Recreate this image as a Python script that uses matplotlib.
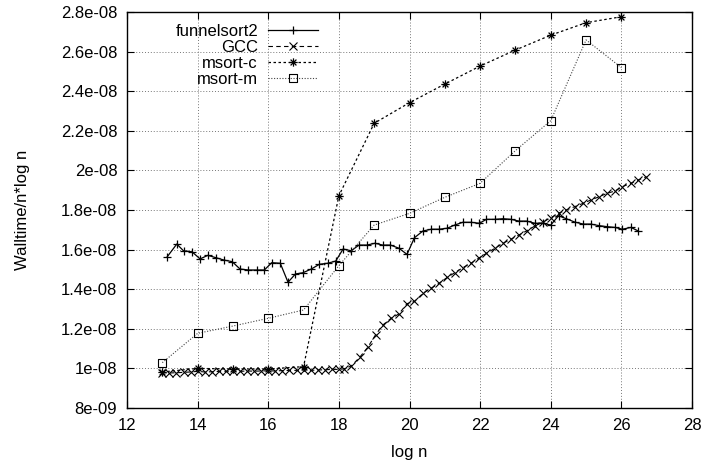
import matplotlib
matplotlib.use("Agg")
import matplotlib.pyplot as plt
from matplotlib.path import Path
from matplotlib.ticker import FuncFormatter, MultipleLocator

plt.rcParams["font.family"] = ["Liberation Sans", "DejaVu Sans"]

# funnelsort2
fs_x = [13.14, 13.41, 13.6, 13.84, 14.07, 14.29, 14.52, 14.75, 14.98, 15.2,
        15.44, 15.68, 15.89, 16.1, 16.34, 16.56, 16.77, 16.98, 17.22, 17.45,
        17.68, 17.91, 18.12, 18.35, 18.57, 18.8, 19.02, 19.24, 19.46, 19.7,
        19.93, 20.14, 20.38, 20.62, 20.84, 21.07, 21.28, 21.51, 21.74, 21.98,
        22.18, 22.42, 22.65, 22.87, 23.1, 23.32, 23.55, 23.78, 24.0, 24.22,
        24.44, 24.68, 24.92, 25.13, 25.37, 25.59, 25.82, 26.03, 26.27, 26.48]
fs_y = [1.564, 1.628, 1.594, 1.589, 1.553, 1.571, 1.559, 1.547, 1.539, 1.502,
        1.497, 1.497, 1.497, 1.534, 1.531, 1.435, 1.477, 1.483, 1.502, 1.526,
        1.531, 1.542, 1.603, 1.594, 1.623, 1.623, 1.632, 1.623, 1.623, 1.607,
        1.576, 1.660, 1.694, 1.703, 1.703, 1.708, 1.724, 1.738, 1.738, 1.733,
        1.753, 1.753, 1.756, 1.753, 1.744, 1.744, 1.733, 1.733, 1.724, 1.771,
        1.756, 1.739, 1.729, 1.729, 1.721, 1.716, 1.712, 1.703, 1.712, 1.694]

# GCC
gcc_x = [13.0, 13.2, 13.4, 13.6, 13.8, 14.0, 14.2, 14.4, 14.6, 14.8,
         15.0, 15.2, 15.4, 15.6, 15.8, 16.0, 16.2, 16.4, 16.6, 16.8,
         17.0, 17.2, 17.4, 17.6, 17.8, 18.0, 18.15, 18.35, 18.59, 18.82,
         19.04, 19.25, 19.48, 19.7, 19.93, 20.14, 20.38, 20.62, 20.84, 21.07,
         21.28, 21.51, 21.74, 21.98, 22.18, 22.42, 22.65, 22.87, 23.1, 23.32,
         23.55, 23.78, 24.0, 24.22, 24.44, 24.68, 24.92, 25.13, 25.37, 25.59,
         25.82, 26.03, 26.27, 26.48, 26.71]
gcc_y = [0.978, 0.977, 0.978, 0.980, 0.982, 0.985, 0.982, 0.983, 0.985, 0.985,
         0.988, 0.985, 0.987, 0.986, 0.987, 0.988, 0.987, 0.989, 0.990, 0.990,
         0.992, 0.990, 0.992, 0.993, 0.995, 0.995, 0.998, 1.012, 1.056, 1.107,
         1.170, 1.220, 1.253, 1.275, 1.327, 1.338, 1.379, 1.405, 1.430, 1.460,
         1.483, 1.509, 1.531, 1.559, 1.581, 1.607, 1.632, 1.652, 1.674, 1.695,
         1.719, 1.739, 1.761, 1.783, 1.800, 1.817, 1.834, 1.850, 1.867, 1.884,
         1.896, 1.918, 1.935, 1.952, 1.968]

# msort-c and msort-m
ms_x = [13, 14, 15, 16, 17, 18, 19, 20, 21, 22, 23, 24, 25, 26]
msc_y = [0.982, 1.000, 0.997, 0.997, 1.009, 1.872, 2.238, 2.342, 2.436,
         2.527, 2.608, 2.683, 2.746, 2.776]
msm_y = [1.029, 1.177, 1.214, 1.253, 1.295, 1.519, 1.724, 1.783, 1.864,
         1.935, 2.100, 2.251, 2.659, 2.519]

scale = 1e-8
fs_y = [v * scale for v in fs_y]
gcc_y = [v * scale for v in gcc_y]
msc_y = [v * scale for v in msc_y]
msm_y = [v * scale for v in msm_y]

# gnuplot-like markers: asterisk (+ and x), square with center dot
star = Path([(-1, 0), (1, 0), (0, -1), (0, 1), (-0.7, -0.7), (0.7, 0.7),
             (-0.7, 0.7), (0.7, -0.7)],
            [Path.MOVETO, Path.LINETO] * 4)
boxdot = Path([(-1, -1), (1, -1), (1, 1), (-1, 1), (-1, -1),
               (-0.1, 0), (0.1, 0)],
              [Path.MOVETO, Path.LINETO, Path.LINETO, Path.LINETO,
               Path.CLOSEPOLY, Path.MOVETO, Path.LINETO])

fig = plt.figure(figsize=(7.02, 4.68), dpi=100)
ax = fig.add_axes([127 / 702, 60 / 468, 565 / 702, 396 / 468])

ax.plot(fs_x, fs_y, color="black", lw=0.9, marker="+", ms=6, mew=0.9,
        label="funnelsort2")
ax.plot(gcc_x, gcc_y, color="black", lw=0.8, ls=(0, (4, 3)), marker="x",
        ms=5.5, mew=0.8, label="GCC")
ax.plot(ms_x, msc_y, color="black", lw=0.9, ls=(0, (2, 2)), marker=star,
        ms=6, mew=0.9, mfc="none", label="msort-c")
ax.plot(ms_x, msm_y, color="#444444", lw=0.8, ls=(0, (1, 1.5)), marker=boxdot,
        ms=6, mew=0.8, mfc="none", mec="black", label="msort-m")

ax.set_xlim(12, 28)
ax.set_ylim(8e-9, 2.8e-8)
ax.xaxis.set_major_locator(MultipleLocator(2))
ax.yaxis.set_major_locator(MultipleLocator(2e-9))
ax.yaxis.set_major_formatter(FuncFormatter(lambda v, p: "%g" % v))
ax.yaxis.get_offset_text().set_visible(False)

ax.tick_params(direction="in", length=5, width=0.8, top=True, right=True,
               labelsize=12, colors="black", pad=7)
for s in ax.spines.values():
    s.set_linewidth(1.0)
ax.grid(True, color="#777777", lw=0.7, ls=(0, (1, 2)))
ax.set_axisbelow(True)

ax.set_xlabel("log n", fontsize=12)
ax.set_ylabel("Walltime/n*log n", fontsize=12)
ax.xaxis.set_label_coords(0.5, -0.094)
ax.yaxis.set_label_coords(-0.171, 0.5)

ax.legend(loc="upper right", bbox_to_anchor=(318 / 702, 1 - 24 / 468),
          bbox_transform=fig.transFigure, frameon=False, markerfirst=False,
          fontsize=12, handlelength=3.0, handletextpad=0.6, labelspacing=0.05,
          borderpad=0, borderaxespad=0)

fig.savefig("out.png", dpi=100)
